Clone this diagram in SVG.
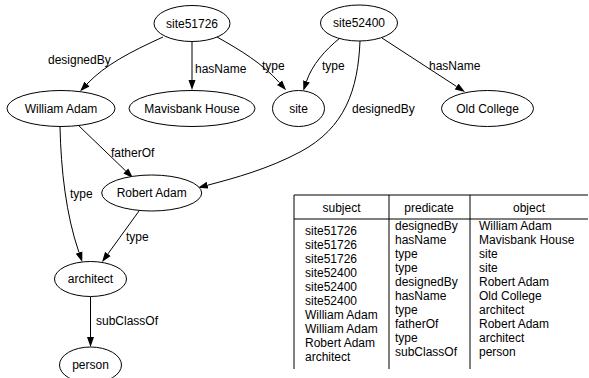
<svg xmlns="http://www.w3.org/2000/svg" width="589" height="378" viewBox="0 0 589 378">
  <style>
    text { font-family: "Liberation Sans", Arial, sans-serif; font-size: 12px; fill: #000; }
    .node ellipse { fill: #fff; stroke: #000; stroke-width: 1; }
    .node text { text-anchor: middle; }
    .edge { fill: none; stroke: #000; stroke-width: 1; marker-end: url(#arrow); }
    .grid { stroke: #000; stroke-width: 1; fill: none; }
    .hdr { text-anchor: middle; }
  </style>
  <defs>
    <marker id="arrow" markerUnits="userSpaceOnUse" markerWidth="10" markerHeight="8" refX="0" refY="4" orient="auto">
      <path d="M0,0.5 L10,4 L0,7.5 z" fill="#000"/>
    </marker>
  </defs>
  <rect width="589" height="378" fill="#fff"/>

  <g id="connectors">
    <path class="edge" d="M163,37 C130,52 105,65 87,84"/>
    <path class="edge" d="M192,42 L192,80"/>
    <path class="edge" d="M217,37 C240,50 262,63 279.5,82.7"/>
    <path class="edge" d="M340,38 C325,50 312,65 306.5,81.3"/>
    <path class="edge" d="M360,41 C358,90 345,128 300,152 C268,169 235,178 207.6,185.2"/>
    <path class="edge" d="M382,38 L456.6,86.5"/>
    <path class="edge" d="M78,125 L125.8,171"/>
    <path class="edge" d="M60,127 C61,170 66,215 79,252.5"/>
    <path class="edge" d="M139,211 L107.9,253.9"/>
    <path class="edge" d="M90.5,297 L90.5,337"/>
    <text x="48" y="64">designedBy</text>
    <text x="195" y="73">hasName</text>
    <text x="262" y="70">type</text>
    <text x="322" y="70">type</text>
    <text x="352" y="113">designedBy</text>
    <text x="429" y="70">hasName</text>
    <text x="111" y="157">fatherOf</text>
    <text x="70" y="198">type</text>
    <text x="126" y="241">type</text>
    <text x="96" y="325">subClassOf</text>
  </g>

  <g id="site51726" class="node"><ellipse cx="192" cy="23.5" rx="38" ry="18"/><text x="192" y="27.5">site51726</text></g>
  <g id="site52400" class="node"><ellipse cx="359" cy="23" rx="38.5" ry="18"/><text x="359" y="27">site52400</text></g>
  <g id="william-adam" class="node"><ellipse cx="61" cy="108.5" rx="54" ry="18"/><text x="61" y="112.5">William Adam</text></g>
  <g id="mavisbank-house" class="node"><ellipse cx="192" cy="108.5" rx="63" ry="18"/><text x="192" y="112.5">Mavisbank House</text></g>
  <g id="site" class="node"><ellipse cx="298.5" cy="108.5" rx="26" ry="18"/><text x="298.5" y="112.5">site</text></g>
  <g id="old-college" class="node"><ellipse cx="487.5" cy="108.5" rx="46" ry="18"/><text x="487.5" y="112.5">Old College</text></g>
  <g id="robert-adam" class="node"><ellipse cx="151.7" cy="193" rx="50" ry="18"/><text x="151.7" y="197">Robert Adam</text></g>
  <g id="architect" class="node"><ellipse cx="90.5" cy="279" rx="36" ry="17.5"/><text x="90.5" y="283">architect</text></g>
  <g id="person" class="node"><ellipse cx="90.5" cy="365" rx="31" ry="18"/><text x="90.5" y="369">person</text></g>

  <g id="triples-table">
    <path class="grid" d="M294,195 H588 M294,219 H588 M294,195 V369 M389,195 V369 M470,195 V369"/>
    <text class="hdr" x="341.5" y="212">subject</text>
    <text class="hdr" x="429" y="212">predicate</text>
    <text class="hdr" x="529" y="212">object</text>
    <g>
      <text x="305" y="235">site51726</text>
      <text x="305" y="249">site51726</text>
      <text x="305" y="263">site51726</text>
      <text x="305" y="277">site52400</text>
      <text x="305" y="291">site52400</text>
      <text x="305" y="305">site52400</text>
      <text x="305" y="319">William Adam</text>
      <text x="305" y="333">William Adam</text>
      <text x="305" y="347">Robert Adam</text>
      <text x="305" y="361">architect</text>
    </g>
    <g>
      <text x="395" y="230">designedBy</text>
      <text x="395" y="244">hasName</text>
      <text x="395" y="258">type</text>
      <text x="395" y="272">type</text>
      <text x="395" y="286">designedBy</text>
      <text x="395" y="300">hasName</text>
      <text x="395" y="314">type</text>
      <text x="395" y="328">fatherOf</text>
      <text x="395" y="342">type</text>
      <text x="395" y="356">subClassOf</text>
    </g>
    <g>
      <text x="479" y="230">William Adam</text>
      <text x="479" y="244">Mavisbank House</text>
      <text x="479" y="258">site</text>
      <text x="479" y="272">site</text>
      <text x="479" y="286">Robert Adam</text>
      <text x="479" y="300">Old College</text>
      <text x="479" y="314">architect</text>
      <text x="479" y="328">Robert Adam</text>
      <text x="479" y="342">architect</text>
      <text x="479" y="356">person</text>
    </g>
  </g>
</svg>
